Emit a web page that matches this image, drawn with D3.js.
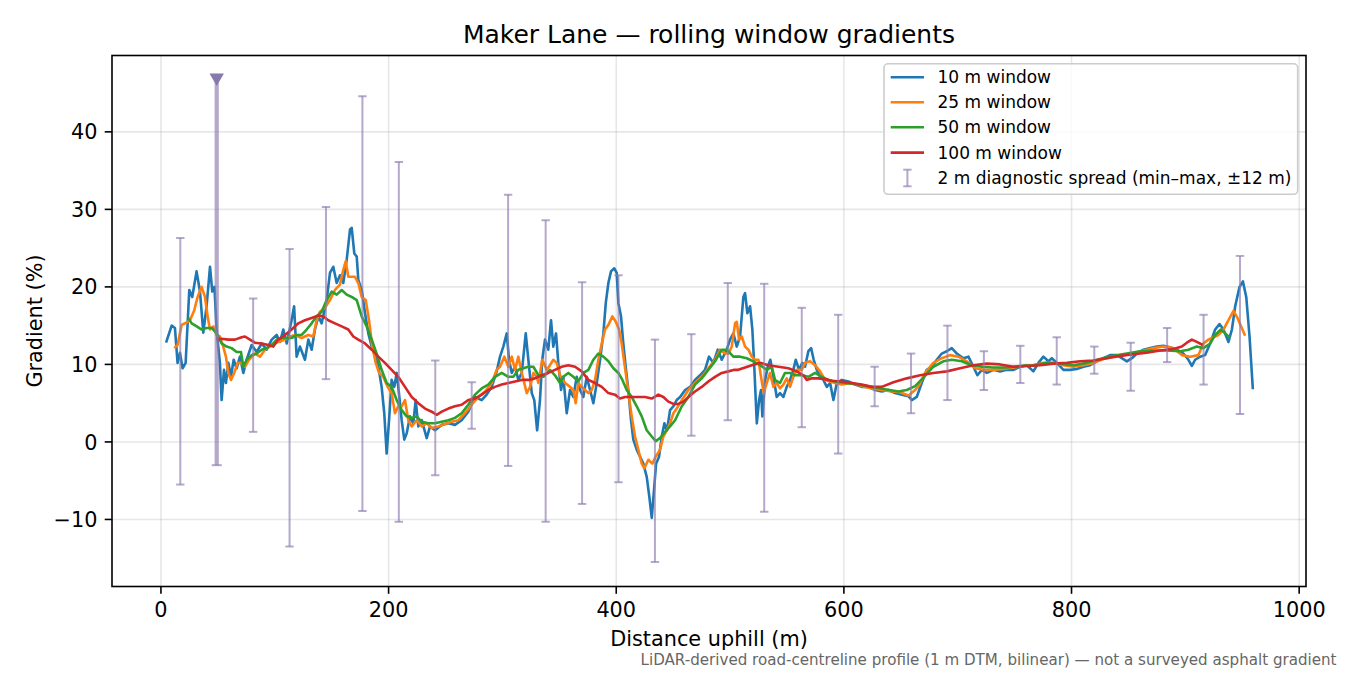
<!DOCTYPE html>
<html>
<head>
<meta charset="utf-8">
<script src="https://cdn.jsdelivr.net/npm/d3@7"></script>
<style>
  html, body { margin: 0; padding: 0; background: #fff; }
  svg { display: block; font-family: "DejaVu Sans", sans-serif; }
</style>
</head>
<body>
<svg id="chart" width="1350" height="675"></svg>
<script>
// ---------------- DATA ----------------
const xTicks = [0, 200, 400, 600, 800, 1000];
const yTicks = [-10, 0, 10, 20, 30, 40];

const seriesNames = ["10 m window", "25 m window", "50 m window", "100 m window"];
const seriesColors = ["#1f77b4", "#ff7f0e", "#2ca02c", "#d62728"];

// [distance (m), gradient (%)]
const win10 = [[4.5,12.8],[9.4,15.0],[12.3,14.7],[14.6,10.2],[16.7,11.5],[19.0,9.5],[21.7,10.2],[24.9,19.6],[27.5,18.7],[31.3,22.0],[34.3,19.4],[37.2,14.1],[40.1,17.5],[43.1,22.6],[45.1,19.4],[47,20],[48.9,14.5],[51.8,10.2],[53.3,5.4],[55.4,9.3],[57.1,7.6],[59.2,10.2],[61.5,8.4],[63.9,10.6],[66.5,9.5],[69.4,11.0],[72.4,8.9],[75.3,10.6],[79.7,12.5],[84.1,11.6],[88.5,12.7],[92.9,11.9],[97.3,13.2],[101.7,13.8],[104.6,12.9],[107.5,14.5],[110.5,12.7],[114.8,15.7],[117,17.5],[119.2,11.0],[122.1,12.3],[126.5,10.6],[129.5,13.2],[132.4,11.9],[135.3,14.5],[138.3,16.2],[141.2,15.3],[145.6,18.3],[148.5,21.8],[151.4,22.6],[154.4,20.5],[157.3,21.5],[160.2,20.5],[163.2,23.5],[166.1,27.4],[167.6,27.6],[169.9,24.3],[172,23.9],[173.4,20.9],[176.4,19.6],[179.3,16.6],[182.2,14.0],[185.2,12.3],[188,11.4],[191,9.7],[193.9,7.1],[196.2,3.7],[198.3,-1.5],[200.4,2.8],[202.7,8.0],[205,7.1],[207.1,8.9],[209.1,6.3],[211.5,2.8],[213.8,0.3],[215.9,1.1],[218.8,3.3],[221.7,2.4],[223.8,5.4],[226.1,2.0],[229.1,2.8],[233.5,0.5],[236.4,2.0],[240.8,1.5],[246.7,2.2],[252.5,2.4],[258.3,2.2],[264.2,2.8],[270,3.9],[275.9,5.8],[281.8,5.4],[286.2,6.1],[290.6,7.1],[295,9.1],[297.9,11.0],[300.8,12.3],[303.8,14.0],[305.8,10.6],[308.2,8.9],[311.1,9.7],[314,8.0],[317,8.9],[320.5,14.0],[322.8,10.6],[325.8,6.3],[328,5.4],[330.5,1.5],[333,5.4],[335,10.6],[337.4,13.2],[340.3,11.9],[342.7,15.7],[344.7,12.3],[347.1,14.0],[349.1,10.2],[351.5,6.7],[353.5,8.4],[356.5,3.7],[359.4,6.7],[362.3,5.8],[365.3,8.4],[368.2,6.7],[371.1,5.8],[374.1,8.4],[377,6.7],[379.9,5.0],[382.9,7.6],[385.8,10.6],[388.7,14.0],[390.8,17.9],[393.1,20.5],[395.4,22.0],[398.3,22.4],[400.4,21.8],[401.9,17.9],[404.2,16.2],[406.2,12.7],[408.3,9.7],[410.6,6.7],[413,2.8],[415,0.3],[418,-1.0],[420.9,-1.9],[423.8,-2.8],[426.8,-4.5],[429.1,-7.1],[431.2,-9.8],[433.2,-6.2],[435,-2.8],[437.6,-1.9],[440,0.7],[442.3,2.4],[444.6,1.5],[447.3,4.1],[450.2,4.6],[453.1,5.4],[456.1,5.8],[460.5,6.7],[464.9,7.1],[469.2,8.0],[473.6,8.6],[478,9.3],[481.5,11.0],[485.3,10.2],[489.2,11.9],[492.7,10.6],[497.1,11.9],[500,13.2],[502.9,14.0],[505.9,12.3],[508.8,13.6],[511.7,18.7],[513.2,19.2],[515.2,16.6],[517.6,17.5],[519.6,14.5],[521.4,9.3],[523.5,2.4],[525.5,5.4],[527.2,6.7],[528.4,3.3],[530.8,8.0],[533.1,9.7],[535.4,10.6],[538.1,8.4],[541,5.8],[543.9,6.3],[546.8,5.8],[549.8,7.1],[552.7,8.0],[555.6,9.3],[557.7,10.6],[560.6,9.3],[563.5,10.2],[565.9,9.7],[568.8,11.7],[571.2,12.1],[573.5,10.6],[576.2,9.3],[579.1,8.4],[582,8.0],[585,7.1],[587.9,7.6],[590.8,5.4],[593.8,7.6],[598.2,8.0],[604,7.8],[609.8,7.4],[615.7,7.1],[621.5,7.1],[627.4,6.7],[633.3,6.5],[639.1,6.7],[645,6.3],[650.9,6.1],[656.7,5.9],[659.7,5.4],[664,5.8],[668.4,7.6],[672.8,9.3],[677.2,9.7],[681.6,10.6],[686,11.4],[690.4,11.7],[694.8,12.1],[699.2,11.4],[705,10.8],[709.4,11.0],[713.8,9.7],[717.3,8.6],[721.2,9.3],[725.6,8.9],[731.4,9.3],[737.3,9.1],[743.1,9.3],[749,9.3],[754.8,9.7],[760.7,9.9],[766.5,9.1],[770.9,10.2],[775.3,11.0],[779.7,10.4],[782.7,10.8],[787.1,10.2],[792.9,9.3],[798.8,9.3],[804.6,9.4],[810.5,9.7],[816.3,9.9],[822.2,10.4],[828,10.8],[833.9,11.2],[839.8,11.2],[844.2,10.8],[848.6,10.4],[853,10.8],[857.4,11.4],[863.2,11.9],[869.1,12.1],[874.9,12.3],[880.8,12.4],[886.6,12.2],[892.5,11.9],[898.3,11.4],[902.7,10.6],[905.7,9.8],[908.6,10.6],[913,11.0],[917.4,11.2],[921.8,12.7],[926.2,14.5],[930,15.2],[933.5,14.5],[937.9,12.9],[940.9,14.5],[943.8,17.5],[947.6,20.0],[950.6,20.7],[953.5,18.7],[956.4,13.6],[959.3,6.8]];

const win25 = [[11.7,12.1],[14.6,12.5],[18.2,15.1],[22.6,15.4],[25.5,15.7],[29.3,17.0],[32.2,18.7],[35.7,20.0],[38.7,18.7],[41,16.2],[43.1,14.5],[46,14.9],[48.9,13.8],[51.8,13.6],[54.7,12.3],[57.1,11.0],[59.2,8.9],[61.5,8.0],[64.4,8.9],[67.4,10.2],[70.3,10.2],[73.8,9.7],[77.3,10.6],[82.6,11.4],[87,11.0],[91.4,11.9],[97.3,12.5],[103.1,12.9],[109,13.2],[113.4,13.6],[117.8,13.8],[123.6,13.4],[129.5,13.8],[133.8,13.6],[136.8,15.7],[139.7,16.8],[144.1,17.3],[148.5,18.3],[152.9,19.6],[157.3,20.3],[160.2,22.2],[162.3,23.3],[164.6,21.3],[166.1,21.3],[170.5,21.3],[173.4,20.5],[176.4,18.7],[179.9,18.3],[182.8,15.7],[185.7,12.3],[188.7,10.2],[191.6,8.9],[195.3,8.4],[199.2,7.1],[202.7,6.3],[205.6,3.7],[208.5,4.6],[211.5,4.6],[214.4,5.4],[217.3,2.8],[220.3,2.0],[224.7,2.8],[229.1,2.0],[233.5,2.4],[237.9,1.8],[243.7,2.0],[249.6,2.3],[255.4,2.6],[261.3,2.8],[267.1,3.7],[273,4.8],[278.8,5.8],[284.7,6.5],[290.6,7.6],[295,9.3],[297.9,9.7],[301.7,11.0],[305.2,9.7],[308.2,11.0],[311.1,9.3],[314,11.0],[317,8.9],[321.4,6.3],[324.3,7.1],[327.2,8.9],[330.1,8.4],[331.6,7.6],[335,10.6],[338.9,9.3],[341.8,9.9],[344.7,10.6],[347.7,10.2],[350.6,8.6],[355,7.6],[359.4,7.1],[362.3,6.7],[364.4,5.0],[366.7,7.6],[369.7,7.1],[372.6,6.7],[375.5,6.3],[378.5,6.7],[381.4,8.0],[384.3,10.6],[387.3,12.7],[390.2,14.5],[393.1,15.1],[396.6,16.2],[399.6,15.5],[402.5,14.5],[404.8,12.7],[407.1,10.2],[409.2,8.0],[411.2,5.8],[413.6,3.3],[416.5,0.7],[419.4,-1.0],[422.4,-2.8],[424.7,-3.4],[428.2,-2.3],[431.7,-2.8],[434.7,-1.9],[438.5,-1.0],[441.4,0.7],[444.4,1.5],[447.3,2.4],[450.2,3.7],[453.1,4.3],[457.6,5.4],[463.4,6.7],[469.2,7.6],[475.1,8.4],[480.9,9.5],[486.8,10.6],[491.2,11.9],[495.6,11.4],[498.5,11.4],[501.5,12.3],[504.4,15.3],[505.9,15.5],[507.9,13.2],[510.3,13.6],[513.2,12.3],[516.1,11.9],[519.1,11.0],[522,10.6],[524.9,10.6],[527.2,8.4],[529.6,6.3],[532.2,7.6],[535.1,8.9],[538.1,7.1],[541,7.6],[543.9,6.9],[546.8,7.4],[549.8,8.2],[552.7,7.1],[555.6,8.4],[558.6,9.3],[563,9.3],[565.9,10.2],[570.3,10.4],[574.7,9.9],[579.1,9.1],[583.5,8.0],[587.9,7.8],[592.3,7.6],[598.2,7.4],[607,7.6],[615.7,7.2],[624.5,6.9],[633.3,6.7],[642.1,6.5],[649.4,6.4],[656.7,6.0],[662.6,6.7],[666,7.3],[671.4,8.9],[678.6,10.2],[686,10.8],[693.3,11.2],[700.6,11.0],[708,10.4],[715.3,9.5],[722.6,9.3],[731.4,9.3],[740.2,9.4],[749,9.6],[757.8,9.8],[766.5,9.9],[775.3,10.2],[784.1,10.2],[792.9,9.9],[801.7,9.7],[810.5,9.9],[819.2,10.2],[828,10.7],[836.8,11.0],[845.6,11.2],[854.4,11.4],[863.2,11.8],[872,12.1],[880.8,12.3],[889.6,12.1],[896.9,11.2],[904.2,11.0],[911.5,11.2],[915.9,12.7],[920.3,13.2],[924.7,13.5],[929.1,13.8],[933.5,14.5],[937.9,15.7],[942.3,16.9],[945.8,16.0],[949.6,14.7],[952.5,13.7]];

const win50 = [[24,16.0],[27,15.3],[31.4,14.9],[35.8,14.5],[40.2,14.7],[44.6,14.7],[48.9,14.0],[53.3,12.7],[57.7,12.3],[62.1,12.1],[66.5,11.6],[70.3,11.6],[72.4,9.7],[75.3,10.6],[79.7,11.2],[84.1,11.4],[88.5,11.9],[92.9,12.1],[97.3,12.5],[101.7,13.2],[106.1,13.4],[110.5,13.4],[114.8,13.4],[119.2,13.8],[123.6,13.8],[128,14.5],[132.4,15.3],[136.8,16.2],[141.2,16.8],[145.6,18.3],[150,19.4],[154.4,19.0],[158.8,19.6],[163.2,19.0],[167.6,18.7],[172,18.3],[176.4,16.2],[180.8,14.9],[185.2,13.2],[189.5,11.4],[193.9,9.3],[198.3,7.6],[202.7,7.1],[207.1,5.4],[211.5,4.1],[215.9,3.3],[220.3,3.1],[224.7,3.3],[229.1,2.6],[234.9,2.4],[240.8,2.4],[246.7,2.6],[252.5,2.8],[258.3,3.1],[264.2,3.7],[270,4.8],[275.9,6.1],[281.8,6.9],[287.6,7.4],[293.5,8.4],[299.4,8.9],[305.2,8.4],[309.6,8.4],[314,9.3],[318.4,9.5],[322.8,9.7],[327.2,9.7],[331.6,8.6],[336,8.4],[341.8,9.3],[346.2,8.6],[350.6,7.6],[353.5,8.4],[357.9,8.9],[362.3,8.4],[366.7,7.8],[371.1,8.9],[375.5,9.3],[379.9,10.6],[384.3,11.4],[388.7,11.0],[393.1,10.4],[397.5,9.5],[401.9,8.9],[405.4,8.0],[409.2,6.7],[413.6,5.8],[418,4.6],[422.4,3.3],[426.8,1.5],[431.2,0.7],[434.7,0.1],[438.5,0.5],[442.9,1.3],[447.3,2.0],[451.7,2.8],[457.6,4.6],[463.4,5.8],[469.2,7.4],[475.1,8.2],[480.9,9.3],[486.8,10.4],[492.7,11.9],[497.1,11.9],[502.9,11.0],[508.8,11.0],[514.7,10.8],[520.5,10.4],[526.4,9.9],[532.3,9.3],[536.6,9.7],[539.5,8.0],[543.9,7.6],[548.3,8.9],[552.7,8.9],[557.1,8.6],[563,8.6],[568.8,8.4],[574.7,8.9],[580.6,8.4],[586.4,8.0],[592.3,7.8],[601.1,7.6],[612.8,7.4],[624.5,7.1],[636.2,6.8],[647.9,6.5],[655.3,6.7],[662.6,7.2],[669.9,8.3],[678.6,9.7],[687.4,10.4],[694.8,10.6],[703.6,10.4],[712.4,9.9],[721.2,9.7],[731.4,9.6],[743.1,9.6],[754.8,9.8],[766.5,9.9],[778.3,10.2],[790,10.1],[801.7,9.9],[813.4,10.2],[825.1,10.7],[836.8,11.1],[848.6,11.4],[860.3,11.7],[872,11.8],[883.7,11.8],[895.4,11.7],[902.7,11.9],[910.1,12.3],[915.9,12.1],[921.8,12.7],[926.2,13.8],[931.2,14.5],[935,14.0],[939.4,13.4]];

const win100 = [[48.9,13.2],[53.3,13.3],[59.2,13.2],[65,13.2],[70.9,13.5],[73.8,13.6],[78.2,13.2],[82.6,12.8],[88.5,12.7],[94.3,12.5],[98.7,12.3],[103.1,13.2],[109,13.8],[114.8,14.5],[120.7,15.3],[126.5,15.7],[132.4,16.0],[138.3,16.3],[142.6,16.2],[147,15.7],[152.9,15.3],[158.8,14.9],[164.6,14.5],[169,13.6],[173.4,13.2],[179.3,12.7],[185.2,11.9],[191,11.0],[196.8,10.2],[202.7,9.3],[208.5,8.4],[214.4,7.1],[220.3,5.8],[226.1,5.0],[232,4.3],[237.9,3.9],[242.3,3.5],[246.7,3.9],[252.5,4.3],[258.3,4.6],[264.2,4.8],[270,5.4],[275.9,5.6],[281.8,6.1],[287.6,6.7],[293.5,7.1],[299.4,7.4],[305.2,7.6],[311.1,7.8],[317,8.0],[322.8,8.0],[328.6,8.2],[334.5,8.6],[340.3,8.9],[346.2,9.3],[352.1,9.7],[357.9,9.9],[363.8,9.7],[369.7,9.1],[375.5,8.0],[381.4,7.6],[387.3,7.1],[393.1,6.3],[398.9,6.1],[403.3,5.6],[407.7,5.8],[413.6,5.8],[419.4,5.8],[425.3,5.8],[431.2,5.6],[437,6.1],[441.4,5.8],[445.8,5.2],[450.2,4.9],[454.6,4.9],[459,5.2],[463.4,5.8],[469.2,6.5],[475.1,7.1],[480.9,7.8],[486.8,8.4],[492.7,8.9],[498.5,9.1],[503.8,9.3],[507.3,9.3],[519.1,9.9],[526.4,10.2],[533.7,9.9],[542.5,9.7],[551.2,9.5],[558.6,9.1],[564.4,8.6],[567.4,8.0],[571.8,8.2],[577.6,8.2],[583.5,8.1],[589.4,7.9],[598.2,7.8],[607,7.6],[615.7,7.4],[624.5,7.1],[633.3,7.1],[643.5,7.7],[655.3,8.2],[667,8.6],[678.6,8.9],[690.4,9.1],[702.1,9.5],[713.8,9.9],[725.6,10.1],[737.3,10.0],[749,9.7],[760.7,9.8],[772.4,9.9],[784.1,10.1],[795.9,10.2],[807.6,10.4],[819.2,10.5],[831,10.8],[842.7,11.1],[854.4,11.3],[866.2,11.5],[877.9,11.8],[889.6,12.0],[896.9,12.3],[901.3,12.8],[905.7,13.2],[910.1,12.9],[915.4,12.5]];

// 2 m diagnostic spread (min–max within ±12 m)
const spreadX   = [17,49,81,113,145,177,209,241,273,305,338,370,402,434,466,498,530,563,595,627,659,691,723,755,787,820,852,884,916,948];
const spreadMin = [-5.5,-3.0,1.3,-13.5,8.1,-8.9,-10.3,-4.3,1.7,-3.1,-10.3,-8.0,-5.2,-15.5,0.8,2.8,-9.0,1.9,-1.5,4.6,3.7,5.4,6.7,7.6,7.4,8.8,6.6,10.3,7.4,3.6];
const spreadMax = [26.3,47.0,18.5,24.9,30.3,44.6,36.1,10.5,7.7,31.9,28.6,20.6,21.5,13.2,13.9,20.5,20.4,17.3,16.4,9.7,11.4,15.0,11.7,12.4,13.5,12.3,12.8,14.7,16.4,24.0];
const spreadOffScale = [false,true,false,false,false,false,false,false,false,false,false,false,false,false,false,false,false,false,false,false,false,false,false,false,false,false,false,false,false,false];

const titleText = "Maker Lane \u2014 rolling window gradients";
const xLabelText = "Distance uphill (m)";
const yLabelText = "Gradient (%)";
const spreadLabel = "2 m diagnostic spread (min\u2013max, \u00b112 m)";
const footText = "LiDAR-derived road-centreline profile (1 m DTM, bilinear) \u2014 not a surveyed asphalt gradient";

// ---------------- LAYOUT ----------------
const L = 112, R = 1306, T = 55.5, B = 586.5;
const svg = d3.select("#chart");
const x = d3.scaleLinear().domain([-43, 1006]).range([L, R]);
const y = d3.scaleLinear().domain([-18.65, 49.85]).range([B, T]);

const barColor = "rgb(142,125,176)";
const barOpacity = 0.66;
const tickFont = 20.8;

svg.append("defs").append("clipPath").attr("id", "plotclip")
  .append("rect").attr("x", L).attr("y", T).attr("width", R - L).attr("height", B - T);

// grid
const grid = svg.append("g");
grid.selectAll(".gx").data(xTicks).join("line")
  .attr("x1", d => x(d)).attr("x2", d => x(d)).attr("y1", T).attr("y2", B)
  .attr("stroke", "#b0b0b0").attr("stroke-opacity", 0.3).attr("stroke-width", 1.6);
grid.selectAll(".gy").data(yTicks).join("line")
  .attr("x1", L).attr("x2", R).attr("y1", d => y(d)).attr("y2", d => y(d))
  .attr("stroke", "#b0b0b0").attr("stroke-opacity", 0.3).attr("stroke-width", 1.6);

// lines
const plot = svg.append("g").attr("clip-path", "url(#plotclip)");
const lineGen = d3.line().x(d => x(d[0])).y(d => y(d[1])).curve(d3.curveLinear);
[win10, win25, win50, win100].forEach((s, i) => {
  plot.append("path").datum(s).attr("d", lineGen)
    .attr("fill", "none").attr("stroke", seriesColors[i])
    .attr("stroke-width", 2.6).attr("stroke-linejoin", "round").attr("stroke-linecap", "butt");
});

// error bars
const spread = spreadX.map((d, i) => ({ x: d, lo: spreadMin[i], hi: spreadMax[i], off: spreadOffScale[i] }));
const eb = plot.append("g").attr("stroke", barColor).attr("stroke-opacity", barOpacity);
const cap = 4.2;
spread.forEach(d => {
  const g = eb.append("g");
  g.append("line").attr("x1", x(d.x)).attr("x2", x(d.x)).attr("y1", y(d.lo)).attr("y2", y(d.hi))
    .attr("stroke-width", d.off ? 4.2 : 2);
  g.append("line").attr("x1", x(d.x) - (d.off ? 5 : cap)).attr("x2", x(d.x) + (d.off ? 5 : cap))
    .attr("y1", y(d.lo)).attr("y2", y(d.lo)).attr("stroke-width", 2);
  if (!d.off) {
    g.append("line").attr("x1", x(d.x) - cap).attr("x2", x(d.x) + cap)
      .attr("y1", y(d.hi)).attr("y2", y(d.hi)).attr("stroke-width", 2);
  }
});
// off-scale markers
const tri = d3.symbol().type(d3.symbolTriangle).size(90);
plot.selectAll(".off").data(spread.filter(d => d.off)).join("path")
  .attr("d", tri)
  .attr("transform", d => `translate(${x(d.x)},${y(d.hi)}) rotate(180)`)
  .attr("fill", "rgb(136,121,170)");

// spines
svg.append("rect").attr("x", L).attr("y", T).attr("width", R - L).attr("height", B - T)
  .attr("fill", "none").attr("stroke", "#000").attr("stroke-width", 1.6);

// ticks
const ax = svg.append("g");
xTicks.forEach(t => {
  ax.append("line").attr("x1", x(t)).attr("x2", x(t)).attr("y1", B).attr("y2", B + 7.3)
    .attr("stroke", "#000").attr("stroke-width", 1.6);
  ax.append("text").attr("x", x(t)).attr("y", 617.4).attr("text-anchor", "middle")
    .attr("font-size", tickFont).attr("fill", "#000").text(d3.format("d")(t));
});
yTicks.forEach(t => {
  ax.append("line").attr("x1", L - 7.3).attr("x2", L).attr("y1", y(t)).attr("y2", y(t))
    .attr("stroke", "#000").attr("stroke-width", 1.6);
  ax.append("text").attr("x", 97.4).attr("y", y(t) + 7.6).attr("text-anchor", "end")
    .attr("font-size", tickFont).attr("fill", "#000").text(t < 0 ? "\u2212" + Math.abs(t) : String(t));
});

// labels
svg.append("text").attr("x", (L + R) / 2).attr("y", 43).attr("text-anchor", "middle")
  .attr("font-size", 25).attr("fill", "#000").text(titleText);
svg.append("text").attr("x", (L + R) / 2).attr("y", 645.5).attr("text-anchor", "middle")
  .attr("font-size", tickFont).attr("fill", "#000").text(xLabelText);
svg.append("text").attr("transform", `translate(41.8,${(T + B) / 2}) rotate(-90)`)
  .attr("text-anchor", "middle").attr("font-size", tickFont).attr("fill", "#000").text(yLabelText);
svg.append("text").attr("x", 1336.5).attr("y", 664.8).attr("text-anchor", "end")
  .attr("font-size", 15.1).attr("fill", "#666666").text(footText);

// legend
const lg = svg.append("g");
lg.append("rect").attr("x", 884).attr("y", 63.8).attr("width", 413.7).attr("height", 130.5)
  .attr("rx", 4).attr("fill", "#fff").attr("fill-opacity", 0.8)
  .attr("stroke", "#cccccc").attr("stroke-width", 1.6);
const rowY = [77.3, 102.3, 127.3, 152.6, 178];
const legFont = 17;
seriesNames.forEach((n, i) => {
  lg.append("line").attr("x1", 890.7).attr("x2", 924).attr("y1", rowY[i]).attr("y2", rowY[i])
    .attr("stroke", seriesColors[i]).attr("stroke-width", 2.6);
  lg.append("text").attr("x", 937.5).attr("y", rowY[i] + 6).attr("font-size", legFont)
    .attr("fill", "#000").text(n);
});
const ly = rowY[4];
const lgb = lg.append("g").attr("stroke", barColor).attr("stroke-opacity", barOpacity).attr("stroke-width", 2);
lgb.append("line").attr("x1", 907.4).attr("x2", 907.4).attr("y1", ly - 8.3).attr("y2", ly + 8.3);
lgb.append("line").attr("x1", 907.4 - cap).attr("x2", 907.4 + cap).attr("y1", ly - 8.3).attr("y2", ly - 8.3);
lgb.append("line").attr("x1", 907.4 - cap).attr("x2", 907.4 + cap).attr("y1", ly + 8.3).attr("y2", ly + 8.3);
lg.append("text").attr("x", 937.5).attr("y", ly + 6).attr("font-size", legFont)
  .attr("fill", "#000").text(spreadLabel);
</script>
</body>
</html>
